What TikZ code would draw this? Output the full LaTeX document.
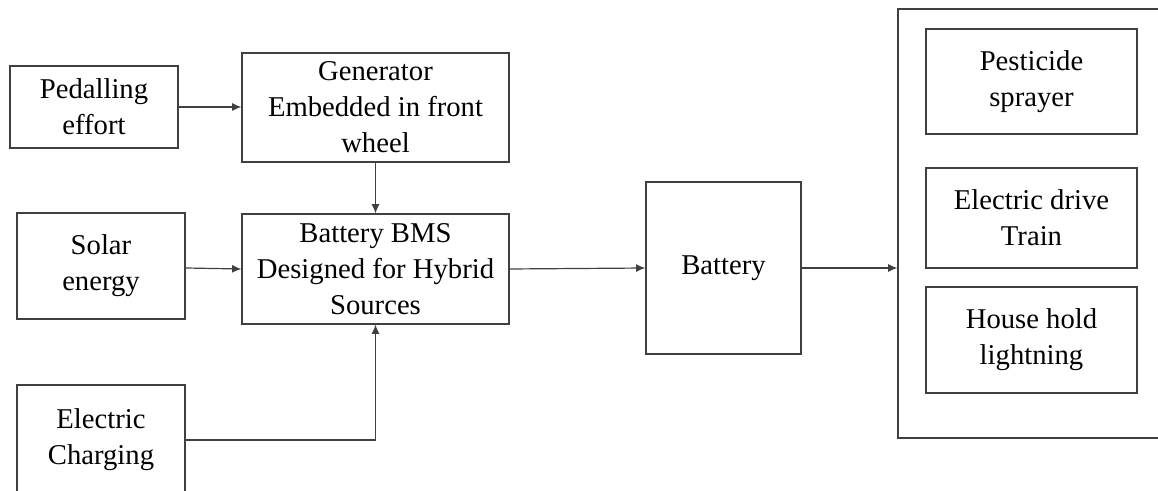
\documentclass[tikz,border=0pt]{standalone}
\usepackage{fontspec}
\setmainfont{Liberation Serif}
\newfontfamily\diagfont{Liberation Serif}
\usetikzlibrary{arrows.meta}

\newlength{\du}
\setlength{\du}{0.75pt}

\tikzset{
  blockbox/.style={draw=black!75, line width=0.9pt, align=center, inner sep=0pt,
    font=\diagfont\fontsize{21.5}{27}\selectfont},
  flowline/.style={draw=black!75, line width=0.9pt, -{Latex[length=7pt,width=6pt]}}
}

\begin{document}
\begin{tikzpicture}[x=\du, y=-\du]
\useasboundingbox (0,0) rectangle (1158,491);
\clip (0,0) rectangle (1158,491);
% sources
\node[blockbox, minimum width=168\du, minimum height=82\du] (pedal) at (94,107) {Pedalling\\effort};
\node[blockbox, minimum width=168\du, minimum height=106\du] (solar) at (101,266) {Solar\\energy};
\node[blockbox, minimum width=168\du, minimum height=110\du] (elec) at (101,440) {Electric\\Charging};
\node[blockbox, minimum width=267\du, minimum height=109\du] (gen) at (375.5,107.5) {Generator\\Embedded in front\\wheel};
\node[blockbox, minimum width=267\du, minimum height=110\du] (bms) at (375.5,269) {Battery BMS\\Designed for Hybrid\\Sources};
\node[blockbox, minimum width=155\du, minimum height=172\du] (batt) at (723.5,268) {Battery};
% loads
\node[blockbox, minimum width=272\du, minimum height=429\du] (loads) at (1034,223.5) {};
\node[blockbox, minimum width=211\du, minimum height=105\du] (pest) at (1031.5,81.5) {Pesticide\\sprayer};
\node[blockbox, minimum width=211\du, minimum height=100\du] (drive) at (1031.5,218) {Electric drive\\Train};
\node[blockbox, minimum width=211\du, minimum height=106\du] (house) at (1031.5,340) {House hold\\lightning};
% connections
\draw[flowline] (pedal.east) -- (gen.west |- pedal.east);
\draw[flowline] (gen.south) -- (bms.north);
\draw[flowline] ([yshift=-1.5pt]solar.east) -- (bms.west);
\draw[flowline] (elec.east) -| (bms.south);
\draw[flowline] (bms.east) -- (batt.west);
\draw[flowline] (batt.east) -- (batt.east -| loads.west);
\end{tikzpicture}
\end{document}
